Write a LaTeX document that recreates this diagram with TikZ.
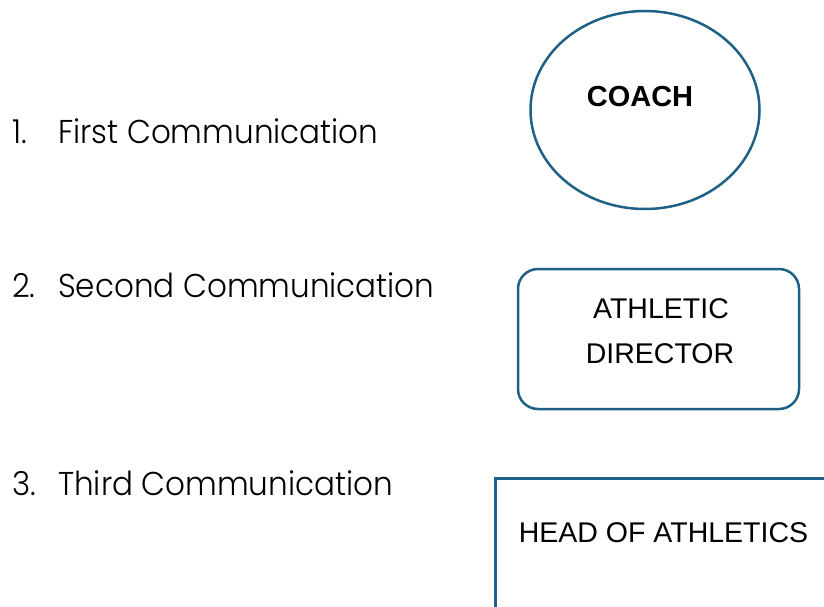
\documentclass[tikz,border=0pt]{standalone}
\usepackage{fontspec}
\setmainfont{Poppins}[UprightFont=* Light, FakeStretch=0.94]
\newfontfamily\arialf{Liberation Sans}
\usetikzlibrary{shapes.geometric}
\definecolor{edgeblue}{RGB}{31,96,134}
\begin{document}
\begin{tikzpicture}[x=1pt,y=1pt,
  listtext/.style={anchor=base west, inner sep=0pt, font=\fontsize{33}{40}\selectfont},
  boxtext/.style={inner sep=0pt, font=\arialf\fontsize{28.5}{45}\selectfont, align=center},
  shapeline/.style={draw=edgeblue, line width=2.5pt}]
\useasboundingbox (0,0) rectangle (824,-607);
% list
\node[listtext] (n1) at (12,-143) {1.};
\node[listtext] (t1) at (58,-143) {First Communication};
\node[listtext] (n2) at (12,-297) {2.};
\node[listtext] (t2) at (58,-297) {Second Communication};
\node[listtext] (n3) at (12,-495) {3.};
\node[listtext] (t3) at (58,-495) {Third Communication};
% coach
\node[shapeline, ellipse, minimum width=229, minimum height=198, inner sep=0pt] (coach) at (645,-110) {};
\node[boxtext, font=\arialf\bfseries\fontsize{29}{35}\selectfont] (coachtxt) at (640,-96.5) {COACH};
% athletic director
\node[shapeline, rectangle, rounded corners=20pt, minimum width=281, minimum height=140, inner sep=0pt] (ad) at (658.5,-339) {};
\node[boxtext, anchor=base] (adtxt1) at (661,-318) {ATHLETIC};
\node[boxtext, anchor=base] (adtxt2) at (660,-363) {DIRECTOR};
% head of athletics
\node[shapeline, rectangle, anchor=north west, minimum width=400, minimum height=200, inner sep=0pt] (head) at (494,-477) {};
\node[boxtext, anchor=base] (headtxt) at (663.5,-542) {HEAD OF ATHLETICS};
\end{tikzpicture}
\end{document}
